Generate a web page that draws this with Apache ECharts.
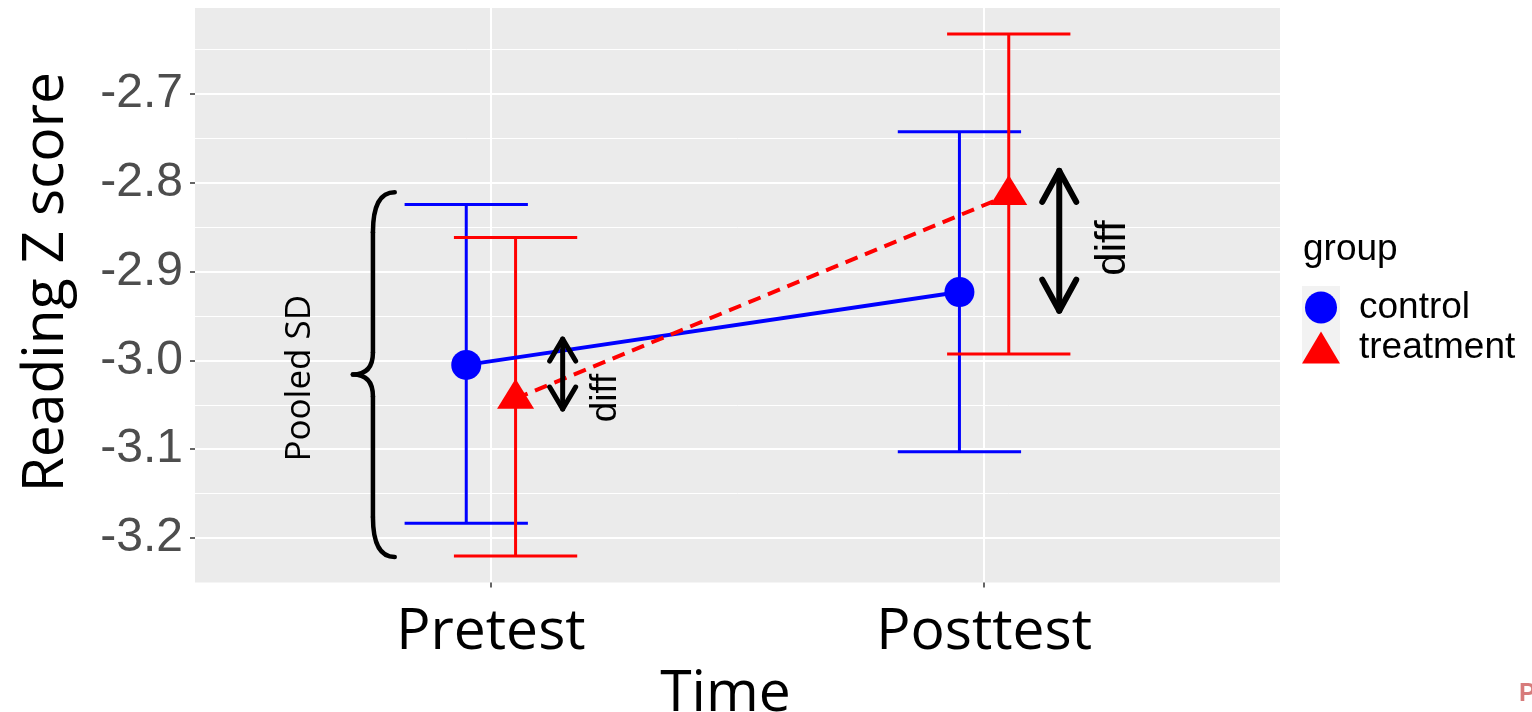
<!DOCTYPE html>
<html>
<head>
<meta charset="utf-8">
<script src="https://cdn.jsdelivr.net/npm/echarts@6/dist/echarts.min.js"></script>
<style>
  html, body { margin: 0; padding: 0; background: #ffffff; }
  #chart { width: 1532px; height: 712px; }
</style>
</head>
<body>
<div id="chart"></div>
<script>
// Time points and groups
const timePoints = ['Pretest', 'Posttest'];
const groups = ['control', 'treatment'];

// Group means with error-bar limits (Reading Z score)
const controlMean = [-3.005, -2.923];
const controlLow = [-3.1835, -3.1028];
const controlHigh = [-2.8242, -2.7425];
const treatmentMean = [-3.043, -2.8136];
const treatmentLow = [-3.2203, -2.9928];
const treatmentHigh = [-2.8614, -2.6324];

// Labelled y ticks
const yTicks = [-3.2, -3.1, -3.0, -2.9, -2.8, -2.7];

const BLUE = '#0000FF';
const RED = '#FF0000';
const DODGE = 0.05;   // horizontal dodge between groups (axis units)
const CAP = 0.125;    // half width of error-bar caps (axis units)
const TITLE_FONT = '"Open Sans", "Noto Sans", sans-serif';
const SANS = '"Liberation Sans", Arial, sans-serif';

function dodgeX(i, g) { return i + 1 + (g === 0 ? -DODGE : DODGE); }

const groupStats = [
  { mean: controlMean, low: controlLow, high: controlHigh },
  { mean: treatmentMean, low: treatmentLow, high: treatmentHigh }
];

const errorData = [];
groupStats.forEach((s, g) => {
  timePoints.forEach((t, i) => errorData.push([dodgeX(i, g), s.low[i], s.high[i], g]));
});

// Annotations (brace for pooled SD, arrows for group differences), in axis units
const annotations = [
  { kind: 'brace', tipX: 0.72, endX: 0.805, top: -2.8104, bottom: -3.2214,
    text: 'Pooled SD', textX: 0.613, textY: -3.02, font: '35px ' + TITLE_FONT },
  { kind: 'arrow', x: 1.1455, top: -2.9759, bottom: -3.0547, head: [13, 22], lw: 5,
    text: 'diff', textX: 1.2335, textY: -3.0423, font: '37px ' + SANS },
  { kind: 'arrow', x: 2.1524, top: -2.7864, bottom: -2.944, head: [17, 31], lw: 6,
    text: 'diff', textX: 2.2613, textY: -2.8734, font: '42px ' + SANS }
];

function renderErrorBar(params, api) {
  const x = api.value(0), lo = api.value(1), hi = api.value(2);
  const color = api.value(3) === 0 ? BLUE : RED;
  const pLo = api.coord([x, lo]);
  const pHi = api.coord([x, hi]);
  const left = api.coord([x - CAP, lo])[0];
  const right = api.coord([x + CAP, lo])[0];
  const style = { stroke: color, lineWidth: 3, lineCap: 'butt' };
  return {
    type: 'group',
    children: [
      { type: 'line', shape: { x1: pLo[0], y1: pLo[1], x2: pHi[0], y2: pHi[1] }, style },
      { type: 'line', shape: { x1: left, y1: pLo[1], x2: right, y2: pLo[1] }, style },
      { type: 'line', shape: { x1: left, y1: pHi[1], x2: right, y2: pHi[1] }, style }
    ]
  };
}

function renderAnnotation(params, api) {
  const a = annotations[params.dataIndex];
  const children = [];
  const ink = { stroke: '#000', fill: null, lineCap: 'round', lineJoin: 'round' };
  if (a.kind === 'brace') {
    const mid = (a.top + a.bottom) / 2;
    const tip = api.coord([a.tipX, mid]);
    const t = api.coord([a.endX, a.top]);
    const b = api.coord([a.endX, a.bottom]);
    const xs = tip[0] + (t[0] - tip[0]) * 0.48;
    const rE = 40, rM = 22;
    const st = Object.assign({ lineWidth: 4.5 }, ink);
    children.push(
      { type: 'bezierCurve', shape: { x1: t[0], y1: t[1], cpx1: xs, cpy1: t[1], x2: xs, y2: t[1] + rE }, style: st },
      { type: 'line', shape: { x1: xs, y1: t[1] + rE, x2: xs, y2: tip[1] - rM }, style: st },
      { type: 'bezierCurve', shape: { x1: xs, y1: tip[1] - rM, cpx1: xs, cpy1: tip[1], x2: tip[0], y2: tip[1] }, style: st },
      { type: 'bezierCurve', shape: { x1: tip[0], y1: tip[1], cpx1: xs, cpy1: tip[1], x2: xs, y2: tip[1] + rM }, style: st },
      { type: 'line', shape: { x1: xs, y1: tip[1] + rM, x2: xs, y2: b[1] - rE }, style: st },
      { type: 'bezierCurve', shape: { x1: xs, y1: b[1] - rE, cpx1: xs, cpy1: b[1], x2: b[0], y2: b[1] }, style: st }
    );
  } else {
    const p1 = api.coord([a.x, a.top]);
    const p2 = api.coord([a.x, a.bottom]);
    const hw = a.head[0], hd = a.head[1];
    const st = Object.assign({ lineWidth: a.lw }, ink);
    children.push(
      { type: 'line', shape: { x1: p1[0], y1: p1[1], x2: p2[0], y2: p2[1] }, style: st },
      { type: 'polyline', shape: { points: [[p1[0] - hw, p1[1] + hd], [p1[0], p1[1]], [p1[0] + hw, p1[1] + hd]] }, style: st },
      { type: 'polyline', shape: { points: [[p2[0] - hw, p2[1] - hd], [p2[0], p2[1]], [p2[0] + hw, p2[1] - hd]] }, style: st }
    );
  }
  const tp = api.coord([a.textX, a.textY]);
  children.push({
    type: 'text', x: tp[0], y: tp[1], rotation: Math.PI / 2,
    style: { text: a.text, font: a.font, fill: '#000', align: 'center', verticalAlign: 'middle' }
  });
  return { type: 'group', children };
}

const chart = echarts.init(document.getElementById('chart'), null, { renderer: 'canvas' });

chart.setOption({
  animation: false,
  backgroundColor: '#ffffff',
  grid: {
    left: 195, top: 8, width: 1085, height: 574.4,
    outerBoundsMode: 'none', containLabel: false,
    show: true, backgroundColor: '#EBEBEB', borderWidth: 0
  },
  xAxis: {
    type: 'value', min: 0.4, max: 2.6,
    name: 'Time', nameLocation: 'middle', nameGap: 78,
    nameTextStyle: { fontFamily: TITLE_FONT, fontSize: 57, color: '#000', padding: [0, 24, 0, 0] },
    axisLine: { show: false },
    axisTick: { show: true, customValues: [1, 2], length: 5, lineStyle: { color: '#333333', width: 1.5 } },
    axisLabel: {
      customValues: [1, 2],
      formatter: v => timePoints[Math.round(v) - 1],
      fontFamily: TITLE_FONT, fontSize: 57, color: '#000', margin: 22
    },
    splitLine: { show: true, lineStyle: { color: '#FFFFFF', width: 2 } }
  },
  yAxis: [
    {
      type: 'value', min: -3.25, max: -2.603, interval: 0.05,
      name: 'Reading Z score', nameLocation: 'middle', nameGap: 120,
      nameTextStyle: { fontFamily: TITLE_FONT, fontSize: 57, color: '#000', padding: [0, 0, 0, 26] },
      axisLine: { show: false },
      axisTick: { show: true, customValues: yTicks, length: 5, lineStyle: { color: '#333333', width: 1.5 } },
      axisLabel: {
        customValues: yTicks,
        formatter: v => v.toFixed(1),
        fontFamily: SANS, fontSize: 48, color: '#4D4D4D', margin: 12
      },
      splitLine: { show: true, lineStyle: { color: '#FFFFFF', width: 2 } }
    },
    {
      // minor grid lines halfway between labelled ticks
      type: 'value', min: -3.25, max: -2.603, interval: 0.05,
      axisLine: { show: false }, axisTick: { show: false }, axisLabel: { show: false },
      splitLine: { show: true, showMinLine: false, showMaxLine: false, lineStyle: { color: '#FFFFFF', width: 1 } }
    }
  ],
  legend: {
    orient: 'vertical', left: 1302, top: 289, padding: 0,
    itemWidth: 38, itemHeight: 32, itemGap: 3,
    selectedMode: false,
    itemStyle: { borderWidth: 0 },
    textStyle: { fontFamily: SANS, fontSize: 37, color: '#000', padding: [0, 0, 0, 14] },
    data: [
      { name: groups[0], icon: 'circle' },
      { name: groups[1], icon: 'triangle' }
    ]
  },
  graphic: [
    { type: 'rect', shape: { x: 1302, y: 286, width: 38, height: 76 }, style: { fill: '#F2F2F2' }, z: 1 },
    { type: 'text', x: 1303, y: 250, style: { text: 'group', font: '37px ' + SANS, fill: '#000', align: 'left', verticalAlign: 'middle' }, z: 5 },
    { type: 'text', x: 1519, y: 694, style: { text: 'P', font: 'bold 25px ' + SANS, fill: '#D77B7B', align: 'left', verticalAlign: 'middle' }, z: 5 }
  ],
  series: [
    {
      name: 'errorbars', type: 'custom', z: 2, silent: true,
      renderItem: renderErrorBar,
      encode: { x: 0, y: [1, 2] },
      data: errorData
    },
    {
      name: groups[0], type: 'line', z: 3, silent: true,
      data: timePoints.map((t, i) => [dodgeX(i, 0), controlMean[i]]),
      itemStyle: { color: BLUE },
      lineStyle: { color: BLUE, width: 4 },
      symbol: 'circle', symbolSize: 30, showSymbol: true
    },
    {
      name: groups[1], type: 'line', z: 3, silent: true,
      data: timePoints.map((t, i) => [dodgeX(i, 1), treatmentMean[i]]),
      itemStyle: { color: RED },
      lineStyle: { color: RED, width: 4, type: [13, 8] },
      symbol: 'triangle', symbolSize: [37, 30], symbolOffset: [0, -5], showSymbol: true
    },
    {
      name: 'annotations', type: 'custom', z: 4, silent: true, clip: false,
      renderItem: renderAnnotation,
      encode: { x: 0, y: 1 },
      data: annotations.map(a => a.kind === 'brace' ? [a.tipX, (a.top + a.bottom) / 2] : [a.x, a.top])
    }
  ]
});
</script>
</body>
</html>
